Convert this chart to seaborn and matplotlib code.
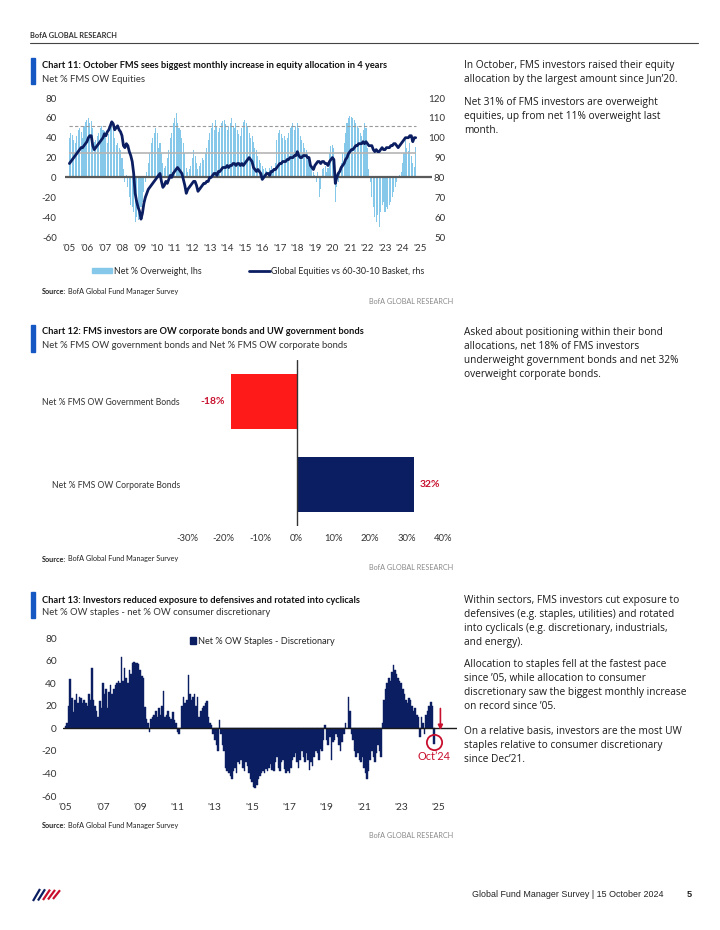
import numpy as np
import pandas as pd
import matplotlib
matplotlib.use("Agg")
import matplotlib.pyplot as plt
import seaborn as sns
from matplotlib.lines import Line2D
from matplotlib.patches import Patch

sns.set_theme(style="white")
CHART_FONT = ["Lato", "DejaVu Sans"]
BODY = ["Open Sans", "DejaVu Sans"]
FOOT = ["Liberation Sans", "DejaVu Sans"]
plt.rcParams["font.family"] = CHART_FONT
plt.rcParams["axes.unicode_minus"] = False

W, H = 720, 930
NAVY = "#0B1E62"
LIGHT = "#86C8EA"
RED = "#FF1A1A"
DARKRED = "#C8102E"
BLUEMARK = "#1558C4"
TXT = "#222222"

# ---- chart 11: net % OW equities (lhs) and global equities vs 60-30-10 basket (rhs), monthly Jan'05-Oct'24
ow_equities = [
    40, 45, 43, 38, 35, 42, 48, 50, 46, 40, 52, 56,
    58, 60, 55, 57, 50, 36, 38, 42, 45, 50, 52, 48,
    47, 45, 35, 44, 50, 55, 53, 40, 33, 35, 30, 28,
    20, 8, -5, 2, -10, -20, -28, -30, -35, -45, -40, -43,
    -38, -30, -25, -15, -5, 5, 15, 25, 35, 40, 45, 50,
    45, 30, 35, 25, 15, 10, 12, 20, 28, 40, 45, 55,
    60, 65, 55, 50, 48, 40, 35, 25, 10, 5, 8, 12,
    20, 28, 22, 15, 8, 12, 15, 20, 18, 25, 30, 38,
    45, 50, 55, 48, 58, 52, 46, 50, 55, 57, 58, 54,
    48, 52, 55, 60, 52, 50, 55, 48, 44, 42, 50, 56,
    58, 55, 52, 45, 40, 42, 36, 30, 28, 22, 18, 15,
    12, 8, 10, 6, 5, 10, 12, 8, 10, 15, 38, 45,
    48, 44, 40, 42, 38, 40, 45, 50, 52, 55, 48, 52,
    55, 50, 42, 38, 35, 30, 28, 25, 20, 15, 10, 5,
    2, -5, 5, -20, -12, 8, 10, 12, 5, 10, 25, 32,
    33, 30, -25, -10, -5, 5, 15, 25, 35, 45, 55, 60,
    62, 61, 60, 58, 55, 52, 50, 45, 42, 48, 55, 50,
    30, 8, -5, -20, -30, -40, -45, -38, -50, -35, -28, -25,
    -35, -30, -32, -28, -25, -20, -15, -10, -5, 0, 2, 5,
    15, 25, 38, 30, 27, 35, 22, 15, 11, 31,
]
equities_vs_basket = [
    87, 88, 89, 90, 91, 92, 93, 94, 95, 95, 96, 97,
    98, 100, 101, 101, 96, 94, 95, 96, 97, 98, 99, 100,
    102, 101, 103, 104, 106, 108, 107, 104, 105, 106, 104, 103,
    101, 96, 95, 97, 96, 93, 91, 88, 82, 72, 68, 65,
    63, 59, 62, 67, 70, 72, 74, 75, 76, 77, 78, 79,
    80, 81, 82, 78, 75, 76, 78, 77, 79, 81, 80, 82,
    83, 84, 85, 84, 83, 82, 79, 76, 72, 74, 75, 76,
    77, 78, 78, 76, 73, 74, 75, 76, 77, 77, 78, 78,
    80, 80, 81, 82, 82, 81, 83, 83, 84, 85, 85, 85,
    86, 85, 86, 86, 87, 87, 86, 87, 87, 86, 87, 86,
    87, 88, 89, 90, 89, 88, 85, 84, 83, 84, 83, 82,
    79, 80, 81, 82, 82, 81, 83, 83, 84, 84, 85, 86,
    87, 87, 88, 88, 88, 89, 89, 90, 90, 90, 91, 91,
    93, 91, 90, 90, 91, 91, 91, 90, 90, 86, 85, 84,
    86, 87, 88, 88, 87, 88, 88, 87, 87, 86, 88, 89,
    90, 89, 77, 80, 82, 83, 85, 86, 87, 89, 90, 92,
    93, 94, 94, 95, 96, 96, 97, 97, 97, 98, 97, 98,
    97, 96, 96, 96, 94, 93, 94, 93, 93, 94, 95, 94,
    94, 95, 95, 95, 96, 96, 97, 97, 96, 95, 96, 97,
    98, 99, 100, 100, 100, 101, 101, 98, 100, 100,
]
ow_mean = 25
ow_plus_1sd = 52

# ---- chart 12
bond_labels = ["Net % FMS OW Government Bonds", "Net % FMS OW Corporate Bonds"]
bond_values = [-18, 32]

# ---- chart 13: net % OW staples - net % OW discretionary, monthly Jan'05-Oct'24
staples_minus_discr = [
    2, 5, 20, 44, 27, 14, 25, 30, 22, 28, 27, 22,
    25, 22, 20, 30, 25, 53, 25, 20, 15, 10, 24, 18,
    40, 30, 35, 18, 32, 38, 30, 35, 38, 40, 42, 40,
    63, 42, 53, 45, 40, 52, 48, 58, 59, 58, 58, 57,
    52, 46, 45, 19, 8, 5, -3, 8, 10, 12, 15, 10,
    18, 12, 20, 33, 10, 12, 15, 10, 8, 14, 7, 5,
    -3, -5, 0, 20, 28, 22, 25, 47, 30, 25, 28, 30,
    20, 28, 10, 15, 18, 20, 22, 24, 10, 5, 3, -5,
    -10, -15, -20, 7, -5, -15, -20, -35, -38, -40, -42, -45,
    -38, -35, -40, -30, -32, -28, -35, -38, -30, -33, -40, -45,
    -48, -52, -53, -50, -45, -42, -40, -38, -40, -36, -38, -35,
    -32, -37, -38, -30, -25, -35, -38, -30, -28, -36, -40, -38,
    -40, -35, -28, -25, -22, -30, -35, -28, -20, -25, -30, -22,
    -28, -37, -30, -33, -25, -20, -22, -28, -18, -20, -10, 3,
    -10, -15, -8, -28, -12, -10, -5, -8, -15, -20, -12, -5,
    5, 0, 28, 15, -5, -10, -20, -25, -22, -28, -30, -25,
    -35, -40, -45, -38, -28, -20, -25, -30, -22, -15, -20, -25,
    5, 25, 35, 40, 45, 42, 50, 56, 52, 48, 45, 42,
    40, 35, 30, 25, 22, 27, 25, 20, 15, 18, 12, 10,
    -8, 10, 5, -5, 12, 15, 20, 23, 20, -14,
]

months = pd.date_range("2005-01-01", "2024-10-01", freq="MS")
years = np.asarray(months.year + (months.month - 1) / 12.0, dtype=float)


def box(x0, y0, x1, y1):
    return [x0 / W, 1 - y1 / H, (x1 - x0) / W, (y1 - y0) / H]


fig = plt.figure(figsize=(W / 100, H / 100), dpi=100)


def ftext(x, y, s, **kw):
    kw.setdefault("va", "center")
    kw.setdefault("color", TXT)
    return fig.text(x / W, 1 - y / H, s, **kw)


def clean(ax, size=7):
    for sp in ax.spines.values():
        sp.set_visible(False)
    ax.tick_params(length=0, labelsize=size, labelcolor="#333333")
    ax.set_xlabel("")
    ax.set_ylabel("")
    ax.grid(False)


def chart_header(y_top, y_bot, title, subtitle, y_title, y_sub):
    fig.add_artist(plt.Rectangle((31 / W, 1 - y_bot / H), 3.5 / W, (y_bot - y_top) / H,
                                 color=BLUEMARK, transform=fig.transFigure))
    ftext(41.5, y_title, title, fontsize=6.7, fontweight="bold", color="#111111")
    ftext(41.5, y_sub, subtitle, fontsize=6.8, color="#333333")


def source(y, y_brand):
    ftext(41.5, y, "Source:", fontsize=5.2, fontweight="bold")
    ftext(67.5, y, "BofA Global Fund Manager Survey", fontsize=5.2)
    ftext(453, y_brand, "BofA GLOBAL RESEARCH", fontsize=5.2, color="#8a8a8a", ha="right")


def body(x, y0, lines, step=14.2):
    for i, line in enumerate(lines):
        ftext(x, y0 + i * step, line, fontsize=7.3, family=BODY, color="#1a1a1a")


# page header
ftext(30, 36, "BofA GLOBAL RESEARCH", fontsize=5.3, fontweight="bold", color="#333333")
fig.add_artist(Line2D([30 / W, 698 / W], [1 - 43 / H, 1 - 43 / H], color="#444444", lw=0.8))

# ================= Chart 11 =================
chart_header(58, 84, "Chart 11: October FMS sees biggest monthly increase in equity allocation in 4 years",
             "Net % FMS OW Equities", 66, 79)
ax1 = fig.add_axes(box(65, 98, 432, 237))
sns.barplot(x=years, y=ow_equities, native_scale=True, color=LIGHT, width=0.72,
            linewidth=0, errorbar=None, saturation=1, ax=ax1)
ax1.hlines(ow_plus_1sd, years[0], years[-1], colors="#9a9a9a", linestyles=(0, (3, 2)), lw=0.8, zorder=3)
ax1.hlines(ow_mean, years[0], years[-1], colors="#b5b5b5", lw=1.2, zorder=3)
ax1.axhline(0, color="#5a5a5a", lw=1.6, zorder=3)
ax1.set_xlim(2004.75, 2025.68)
ax1.set_ylim(-60, 80)
ax1.set_yticks(range(-60, 81, 20))
ax1.set_xticks(range(2005, 2026))
ax1.set_xticklabels([f"'{y % 100:02d}" for y in range(2005, 2026)])
clean(ax1)
ax1.tick_params(axis="y", pad=6)
ax1.tick_params(axis="x", pad=5)

ax2 = ax1.twinx()
sns.lineplot(x=years, y=equities_vs_basket, color=NAVY, lw=2.0, ax=ax2)
ax2.set_ylim(50, 120)
ax2.set_yticks(range(50, 121, 10))
clean(ax2)
ax2.tick_params(axis="y", pad=9.5)
for lab in ax2.get_yticklabels():
    lab.set_horizontalalignment("right")

fig.legend(handles=[Patch(color=LIGHT), Line2D([], [], color=NAVY, lw=2)],
           labels=["Net % Overweight, lhs", "Global Equities vs 60-30-10 Basket, rhs"],
           loc="center left", bbox_to_anchor=(92 / W, 1 - 271 / H), ncol=2, frameon=False,
           fontsize=6.4, handlelength=2.3, handleheight=0.6, handletextpad=0.15,
           columnspacing=5.4, borderaxespad=0, borderpad=0)
source(291, 301)

body(464, 65.7, ["In October, FMS investors raised their equity",
                 "allocation by the largest amount since Jun\u201920."])
body(464, 102, ["Net 31% of FMS investors are overweight",
                "equities, up from net 11% overweight last",
                "month."])

# ================= Chart 12 =================
chart_header(325, 352, "Chart 12: FMS investors are OW corporate bonds and UW government bonds",
             "Net % FMS OW government bonds and Net % FMS OW corporate bonds", 332, 345)
ax12 = fig.add_axes(box(187, 360, 443, 526))
df12 = pd.DataFrame({"label": bond_labels, "value": bond_values})
sns.barplot(data=df12, y="label", x="value", hue="label", palette=[RED, NAVY], orient="h",
            width=0.66, linewidth=0, saturation=1, legend=False, ax=ax12)
ax12.axvline(0, color="#333333", lw=1)
ax12.set_xlim(-30, 40)
ax12.set_ylim(1.5, -0.5)
ax12.set_xticks(range(-30, 41, 10))
ax12.set_xticklabels([f"{v}%" for v in range(-30, 41, 10)])
clean(ax12, size=6.8)
ax12.tick_params(axis="y", pad=5, labelsize=6.2)
ax12.tick_params(axis="x", pad=6)
for i, v in enumerate(bond_values):
    ax12.annotate(f"{v}%", xy=(v, i), xytext=(-4.5 if v < 0 else 4.5, 0), textcoords="offset points",
                  ha="right" if v < 0 else "left", va="center", color=DARKRED,
                  fontsize=7.5, fontweight="bold")
source(559, 568)

body(464, 332, ["Asked about positioning within their bond",
                "allocations, net 18% of FMS investors",
                "underweight government bonds and net 32%",
                "overweight corporate bonds."])

# ================= Chart 13 =================
chart_header(592, 618, "Chart 13: Investors reduced exposure to defensives and rotated into cyclicals",
             "Net % OW staples - net % OW consumer discretionary", 600.5, 612.5)
ax13 = fig.add_axes(box(63, 638, 457, 796))
sns.barplot(x=years, y=staples_minus_discr, native_scale=True, color=NAVY, width=1.0,
            linewidth=0.3, edgecolor=NAVY, errorbar=None, saturation=1, ax=ax13)
ax13.axhline(0, color="#1a1a1a", lw=1)
ax13.set_xlim(2004.86, 2025.99)
ax13.set_ylim(-60, 80)
ax13.set_yticks(range(-60, 81, 20))
ax13.set_xticks(range(2005, 2026, 2))
ax13.set_xticklabels([f"'{y % 100:02d}" for y in range(2005, 2026, 2)])
clean(ax13, size=7.3)
ax13.tick_params(axis="y", pad=4.5)
ax13.tick_params(axis="x", pad=5)
ax13.legend(handles=[Patch(color=NAVY)], labels=["Net % OW Staples - Discretionary"],
            loc="center left", bbox_to_anchor=(190 / W, 1 - 641 / H), bbox_transform=fig.transFigure,
            frameon=False, fontsize=6.6, handlelength=0.7, handleheight=0.8, handletextpad=0.2,
            borderaxespad=0, borderpad=0)
last_x, last_y = years[-1], staples_minus_discr[-1]
ax13.plot([last_x], [last_y + 2], marker="o", ms=11, mfc="none", mec=DARKRED, mew=1.3)
ax13.annotate("", xy=(last_x + 0.35, -4), xytext=(last_x + 0.35, 20),
              arrowprops=dict(arrowstyle="-|>", color=DARKRED, lw=1.2, mutation_scale=7))
ax13.text(last_x, -25, "Oct\u201924", color=DARKRED, ha="center", va="center", fontsize=7.8)
source(825, 835)

body(464, 600, ["Within sectors, FMS investors cut exposure to",
                "defensives (e.g. staples, utilities) and rotated",
                "into cyclicals (e.g. discretionary, industrials,",
                "and energy)."])
body(464, 664, ["Allocation to staples fell at the fastest pace",
                "since \u201905, while allocation to consumer",
                "discretionary saw the biggest monthly increase",
                "on record since \u201905."])
body(464, 731, ["On a relative basis, investors are the most UW",
                "staples relative to consumer discretionary",
                "since Dec\u201921."])

# footer: logo strokes and page label
for k, col in enumerate([NAVY, NAVY, DARKRED, DARKRED, DARKRED]):
    x0 = 33 + k * 5
    fig.add_artist(Line2D([x0 / W, (x0 + 7) / W], [1 - (901 - k * 0.5) / H, 1 - (889 + k * 0.3) / H],
                          color=col, lw=1.6, solid_capstyle="butt"))
ftext(663, 894, "Global Fund Manager Survey | 15 October 2024", fontsize=6.4, ha="right", family=FOOT)
ftext(687, 894, "5", fontsize=6.6, fontweight="bold", family=FOOT)

fig.savefig("out.png", dpi=100)
